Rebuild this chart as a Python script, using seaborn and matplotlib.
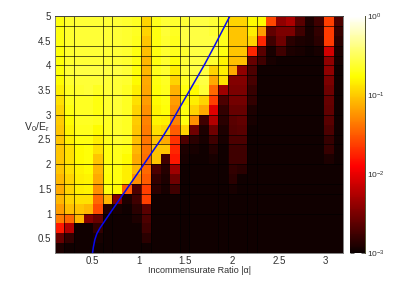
import numpy as np
import pandas as pd
import matplotlib
matplotlib.use("Agg")
import matplotlib.pyplot as plt
import seaborn as sns
from matplotlib.colors import LogNorm

# position on the log colour scale (0 = 1e-3, 100 = 1e0), top row first
rows = [
    [76,79,80,80,80,80,80,79,78,68,77,80,79,80,81,81,80,78,68,68,74,74,47,20,24,12,3,8,46,10],
    [76,79,80,80,80,80,80,79,78,68,76,80,78,81,81,81,80,77,66,66,72,60,13,17,17,8,2,6,45,7],
    [76,79,80,80,80,80,80,79,77,66,76,79,77,81,81,81,81,77,66,66,68,42,8,15,5,3,2,5,45,5],
    [75,79,80,80,80,80,80,79,76,65,76,79,77,79,81,81,81,76,66,66,42,12,2,8,3,2,1,2,30,3],
    [75,79,80,80,80,80,80,79,76,64,76,79,75,80,81,81,79,73,65,65,14,8,2,1,1,1,1,1,20,2],
    [75,80,81,81,81,81,81,80,75,64,77,79,72,80,81,81,68,72,62,20,10,1,1,1,1,1,1,1,20,1],
    [74,79,80,80,80,80,80,79,74,62,76,78,68,78,80,81,62,70,18,18,9,1,1,1,1,1,1,1,17,1],
    [72,78,79,80,78,80,80,78,72,61,75,77,63,76,74,80,52,22,17,17,7,1,1,1,1,1,1,1,15,1],
    [70,77,78,78,76,79,80,78,70,60,74,76,60,74,72,68,46,10,16,16,6,1,1,1,1,1,1,1,14,1],
    [68,76,78,78,76,79,80,78,68,58,73,75,58,76,68,62,32,6,14,14,3,1,1,1,1,1,1,1,13,1],
    [67,74,78,78,77,78,79,78,67,56,73,72,56,76,58,8,25,5,12,13,2,1,1,1,1,1,1,1,12,1],
    [66,73,77,77,74,78,79,78,66,55,70,68,50,68,15,3,15,3,11,12,1,1,1,1,1,1,1,1,10,1],
    [66,72,76,76,72,77,79,78,65,54,66,62,44,10,5,2,8,2,10,10,1,1,1,1,1,1,1,1,7,1],
    [66,70,74,75,70,76,77,76,64,54,66,66,42,3,2,1,4,1,8,8,1,1,1,1,1,1,1,1,7,1],
    [66,70,74,75,66,76,77,74,62,53,66,8,40,2,1,1,2,1,8,8,1,1,1,1,1,1,1,1,3,1],
    [66,70,73,74,64,76,76,72,64,52,10,4,22,1,1,1,1,1,6,5,1,1,1,1,1,1,1,1,1,1],
    [64,68,72,73,62,75,76,72,58,50,6,3,15,1,1,1,1,1,5,1,1,1,1,1,1,1,1,1,1,1],
    [62,68,72,73,58,76,74,50,10,46,5,2,8,1,1,1,1,1,2,1,1,1,1,1,1,1,1,1,1,1],
    [64,68,70,70,52,64,18,3,8,46,1,1,1,1,1,1,1,1,1,1,1,1,1,1,1,1,1,1,1,1],
    [60,65,66,64,48,4,2,1,5,12,1,1,1,1,1,1,1,1,1,1,1,1,1,1,1,1,1,1,1,1],
    [55,52,64,18,14,1,1,1,3,10,1,1,1,1,1,1,1,1,1,1,1,1,1,1,1,1,1,1,1,1],
    [40,25,1,1,6,1,1,1,1,8,1,1,1,1,1,1,1,1,1,1,1,1,1,1,1,1,1,1,1,1],
    [14,6,1,1,2,1,1,1,1,5,1,1,1,1,1,1,1,1,1,1,1,1,1,1,1,1,1,1,1,1],
    [3,1,1,1,1,1,1,1,1,1,1,1,1,1,1,1,1,1,1,1,1,1,1,1,1,1,1,1,1,1],
]

# boundary curve
line_x = [0.505, 0.514, 0.530, 0.551, 0.583, 0.690, 0.851, 1.030, 1.248, 1.333, 1.440, 1.547, 1.708, 1.815, 1.976]
line_y = [0.20, 0.32, 0.47, 0.59, 0.70, 1.00, 1.44, 1.93, 2.53, 2.79, 3.15, 3.50, 4.03, 4.41, 5.00]

xticks = [0.5, 1, 1.5, 2, 2.5, 3]
yticks = [0.5, 1, 1.5, 2, 2.5, 3, 3.5, 4, 4.5, 5]
ytick_labels = ["0.5", "1", "1.5", "2", "2.5", "3", "3.5", "4", "4.5", "5"]

# cell borders that got drawn
grid_cols = [1, 2, 5, 6, 9, 10, 13, 14, 17, 18, 20, 21]
grid_rows = [1, 3, 4, 5, 6, 8, 10, 12, 13, 15, 17, 18, 20]

x0, dx = 0.1, 3.09 / 30
y_top, dy = 5.0, 0.2

sns.set_style("white")
plt.rcParams["font.family"] = ["Liberation Sans", "DejaVu Sans"]
plt.rcParams["mathtext.fontset"] = "custom"
plt.rcParams["mathtext.rm"] = "Liberation Sans"
plt.rcParams["mathtext.it"] = "Liberation Sans"

W, H = 415, 285
fig = plt.figure(figsize=(W / 100, H / 100), dpi=100)
ax = fig.add_axes([54.7 / W, 1 - 253 / H, 288.6 / W, 237 / H])
cax = fig.add_axes([350 / W, 1 - 253 / H, 14.5 / W, 237 / H])

data = pd.DataFrame(10 ** (-3 + 3 * np.array(rows) / 100))
sns.heatmap(data, ax=ax, cbar_ax=cax, cmap="hot", norm=LogNorm(1e-3, 1),
            xticklabels=False, yticklabels=False)

for c in grid_cols:
    ax.axvline(c, color="black", lw=0.7, alpha=0.65)
for r in grid_rows:
    ax.axhline(r, color="black", lw=0.7, alpha=0.65)

curve = pd.DataFrame({"x": (np.array(line_x) - x0) / dx, "y": (y_top - np.array(line_y)) / dy})
sns.lineplot(data=curve, x="x", y="y", ax=ax, color="#0808f0", lw=1.1, sort=False, estimator=None)

ax.set_xticks([(v - x0) / dx for v in xticks])
ax.set_xticklabels([str(v) for v in xticks], fontsize=7, color="#303030")
ax.set_yticks([(y_top - v) / dy for v in yticks])
ax.set_yticklabels(ytick_labels, fontsize=7, color="#303030", rotation=0)
ax.tick_params(length=0, pad=2.5)
# lineplot hides the labels when there are no tick labels yet
ax.set_xlabel("Incommensurate Ratio |α|", fontsize=6.5, color="#303030", labelpad=0, visible=True)
ax.set_ylabel("V$_0$/E$_r$", fontsize=7.5, color="#303030", rotation=0, labelpad=1, visible=True)
for s in ax.spines.values():
    s.set_visible(True)
    s.set_color("#808080")
    s.set_linewidth(0.7)
ax.spines["top"].set_color("#404040")

cax.yaxis.set_ticks_position("both")
cax.tick_params(which="major", direction="in", length=3, width=0.6, labelsize=6, pad=2,
                labelcolor="#303030", color="#505050", left=True, right=True, labelright=True)
cax.tick_params(which="minor", direction="in", length=1.5, width=0.5, color="#606060", left=True, right=True)
for s in cax.spines.values():
    s.set_visible(False)
cax.spines["right"].set_visible(True)
cax.spines["right"].set_color("#505030")
cax.spines["right"].set_linewidth(0.7)

fig.savefig("out.png", dpi=100)
